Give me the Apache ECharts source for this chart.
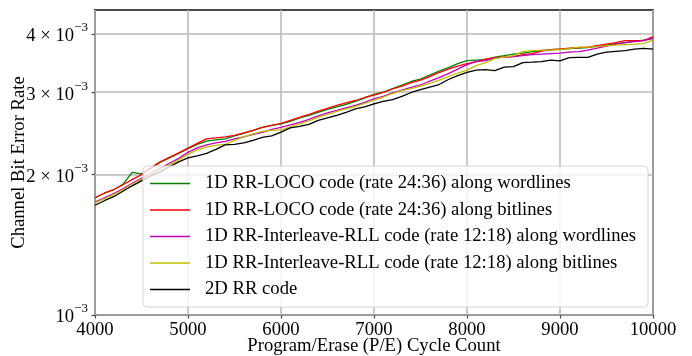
<!DOCTYPE html>
<html style="height: 100%">
<head>
    <meta charset="utf-8">
    <script type="text/javascript" src="https://cdn.jsdelivr.net/npm/echarts@6/dist/echarts.min.js"></script>
</head>
<body style="height: 100%; margin: 0; background: #fff">
<div id="container" style="height: 356px;width: 692px;position: absolute;top: 0;left: 0px;"></div>
<script type="text/javascript">
    // P/E cycle counts (x axis)
    var cycles = [4000,4100,4200,4300,4400,4500,4600,4700,4800,4900,
        5000,5100,5200,5300,5400,5500,5600,5700,5800,5900,
        6000,6100,6200,6300,6400,6500,6600,6700,6800,6900,
        7000,7100,7200,7300,7400,7500,7600,7700,7800,7900,
        8000,8100,8200,8300,8400,8500,8600,8700,8800,8900,
        9000,9100,9200,9300,9400,9500,9600,9700,9800,9900,10000];

    // channel bit error rate, in units of 10^-3
    var locoWordlines = [1.781,1.823,1.855,1.905,2.021,2.006,2.061,2.123,2.170,2.219,
        2.271,2.319,2.357,2.371,2.383,2.418,2.448,2.485,2.522,2.547,
        2.566,2.597,2.643,2.675,2.715,2.756,2.790,2.824,2.866,2.916,
        2.967,3.003,3.055,3.109,3.163,3.202,3.265,3.330,3.388,3.455,
        3.506,3.515,3.523,3.567,3.593,3.620,3.638,3.665,3.683,3.701,
        3.710,3.719,3.728,3.737,3.765,3.783,3.812,3.830,3.859,3.878,3.907];
    var locoBitlines = [1.785,1.823,1.855,1.901,1.950,1.998,2.066,2.128,2.176,2.225,
        2.278,2.331,2.383,2.395,2.406,2.424,2.455,2.485,2.522,2.547,
        2.572,2.610,2.649,2.688,2.733,2.769,2.810,2.845,2.880,2.923,
        2.959,2.996,3.048,3.093,3.147,3.186,3.241,3.306,3.363,3.413,
        3.455,3.489,3.532,3.558,3.567,3.576,3.611,3.629,3.674,3.701,
        3.710,3.728,3.737,3.746,3.774,3.802,3.830,3.868,3.868,3.868,3.946];
    var rllWordlines = [1.746,1.783,1.819,1.864,1.915,1.962,2.011,2.061,2.113,2.165,
        2.230,2.280,2.314,2.337,2.354,2.383,2.406,2.436,2.461,2.497,
        2.522,2.553,2.585,2.623,2.669,2.709,2.742,2.776,2.810,2.852,
        2.902,2.938,2.989,3.033,3.071,3.109,3.170,3.225,3.289,3.363,
        3.438,3.489,3.506,3.550,3.567,3.576,3.593,3.611,3.620,3.629,
        3.638,3.656,3.665,3.692,3.728,3.765,3.802,3.830,3.849,3.868,3.917];
    var rllBitlines = [1.738,1.774,1.810,1.855,1.905,1.953,2.001,2.046,2.097,2.149,
        2.208,2.258,2.291,2.308,2.319,2.365,2.406,2.442,2.473,2.485,
        2.491,2.528,2.566,2.604,2.649,2.688,2.729,2.762,2.796,2.838,
        2.887,2.930,2.981,3.025,3.055,3.093,3.132,3.186,3.241,3.298,
        3.346,3.421,3.472,3.541,3.567,3.593,3.665,3.683,3.692,3.692,
        3.701,3.719,3.746,3.746,3.756,3.774,3.783,3.793,3.802,3.812,3.878];
    var rr2d = [1.718,1.757,1.792,1.841,1.891,1.938,1.986,2.026,2.077,2.128,
        2.170,2.192,2.219,2.263,2.314,2.319,2.337,2.365,2.400,2.418,
        2.464,2.516,2.535,2.560,2.610,2.643,2.675,2.715,2.762,2.790,
        2.834,2.866,2.894,2.938,2.996,3.040,3.078,3.116,3.194,3.257,
        3.310,3.346,3.355,3.338,3.396,3.404,3.472,3.480,3.489,3.515,
        3.501,3.558,3.563,3.563,3.620,3.656,3.670,3.683,3.710,3.724,3.710];

    var seriesNames = ['1D RR-LOCO code (rate 24:36) along wordlines',
        '1D RR-LOCO code (rate 24:36) along bitlines',
        '1D RR-Interleave-RLL code (rate 12:18) along wordlines',
        '1D RR-Interleave-RLL code (rate 12:18) along bitlines',
        '2D RR code'];
    var seriesValues = [locoWordlines, locoBitlines, rllWordlines, rllBitlines, rr2d];
    var seriesColors = ['#008000', '#ff0000', '#bf00bf', '#bfbf00', '#000000'];

    var yTicks = [1, 2, 3, 4];

    var font = '"Liberation Serif", "Times New Roman", serif';
    var fs = 18.67;

    var dom = document.getElementById("container");
    var myChart = echarts.init(dom);

    var series = [];
    for (var s = 0; s < seriesNames.length; s++) {
        var pts = [];
        for (var i = 0; i < cycles.length; i++) {
            pts.push([cycles[i], seriesValues[s][i]]);
        }
        series.push({
            name: seriesNames[s],
            type: 'line',
            data: pts,
            showSymbol: false,
            symbol: 'none',
            color: seriesColors[s],
            lineStyle: {width: 1.3, color: seriesColors[s]}
        });
    }

    var option = {
        animation: false,
        grid: {
            left: 95, right: 39, top: 10, bottom: 41,
            outerBoundsMode: 'none',
            containLabel: false,
            show: true, borderColor: '#4a4a4a', borderWidth: 2
        },
        legend: {
            orient: 'vertical',
            left: 143,
            top: 166,
            icon: 'rect',
            itemWidth: 40,
            itemHeight: 1.5,
            itemGap: 7.5,
            padding: [8, 12, 8, 7],
            backgroundColor: 'rgba(255,255,255,0.8)',
            borderColor: '#d4d4d4',
            borderWidth: 1,
            borderRadius: 4,
            textStyle: {fontFamily: font, fontSize: fs, color: '#000', padding: [0, 0, 0, 10]}
        },
        xAxis: {
            type: 'value',
            min: 4000,
            max: 10000,
            interval: 1000,
            name: 'Program/Erase (P/E) Cycle Count',
            nameLocation: 'middle',
            nameGap: 22,
            nameMoveOverlap: false,
            nameTextStyle: {fontFamily: font, fontSize: fs, color: '#000'},
            axisLine: {show: false},
            axisTick: {show: true, length: 3.5, lineStyle: {color: '#4a4a4a', width: 1.2}},
            axisLabel: {
                margin: 6, fontFamily: font, fontSize: fs, color: '#000',
                formatter: function (v) { return String(v); }
            },
            splitLine: {show: true, lineStyle: {color: '#b8b8b8', width: 1.5}}
        },
        yAxis: {
            type: 'log',
            logBase: 10,
            min: 1,
            max: 4.5,
            name: 'Channel Bit Error Rate',
            nameLocation: 'middle',
            nameGap: 66,
            nameMoveOverlap: false,
            nameTextStyle: {fontFamily: font, fontSize: fs, color: '#000'},
            axisLine: {show: false},
            axisTick: {show: true, length: 3.5, customValues: yTicks, lineStyle: {color: '#4a4a4a', width: 1.2}},
            axisLabel: {
                customValues: yTicks,
                margin: 7,
                formatter: function (v) {
                    var m = Math.round(v);
                    if (m === 1) return '{m|10}{s|\u22123}';
                    return '{m|' + m + ' \u00d7 10}{s|\u22123}';
                },
                rich: {
                    m: {fontFamily: font, fontSize: fs, color: '#000', padding: [5, 0, 0, 0]},
                    s: {fontFamily: font, fontSize: 13, color: '#000', padding: [0, 0, 12, 0]}
                }
            },
            splitLine: {show: true, lineStyle: {color: '#b8b8b8', width: 1.5}}
        },
        series: series
    };
    myChart.setOption(option, true);
</script>
</body>
</html>
